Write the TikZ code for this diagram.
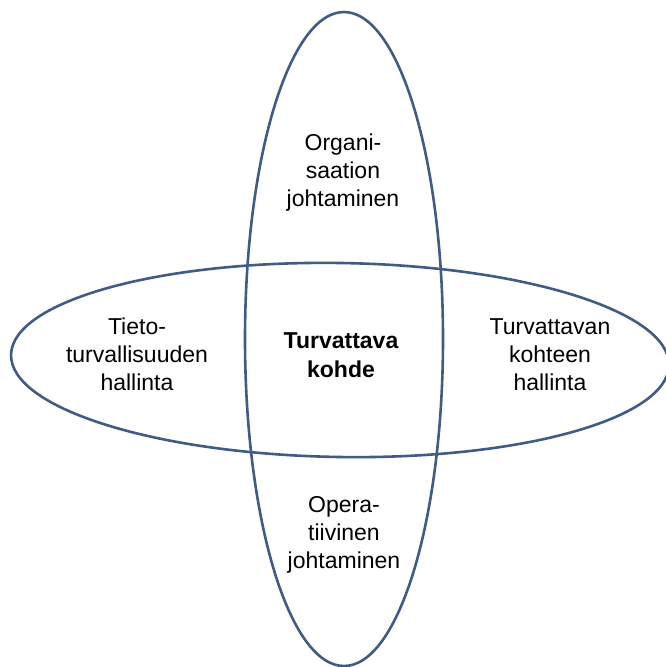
\documentclass[tikz,border=0pt]{standalone}
\usepackage{fontspec}
\setmainfont{Liberation Sans}
\definecolor{ringblue}{RGB}{62,92,134}
\begin{document}
\begin{tikzpicture}[x=1pt,y=-1pt,
  ring/.style={draw=ringblue,line width=2.6pt},
  label/.style={align=center,inner sep=0pt,font=\fontsize{23}{28}\selectfont},
  core/.style={label,font=\fontsize{23}{29}\selectfont\bfseries}]
  \useasboundingbox (0,0) rectangle (665,667);
  % the two crossing ellipses
  \draw[ring] (344,339) ellipse [x radius=99pt,y radius=327pt];
  \draw[ring,rotate around={-0.9:(340,360)}] (340,360) ellipse [x radius=329pt,y radius=97pt];
  % labels
  \node[label] (nTop) at (343,173) {Organi-\\saation\\johtaminen};
  \node[label] (nBottom) at (344,535) {Opera-\\tiivinen\\johtaminen};
  \node[label] (nLeft) at (137,354) {Tieto-\\turvallisuuden\\hallinta};
  \node[label] (nRight) at (550,355) {Turvattavan\\kohteen\\hallinta};
  \node[core] (nCore) at (341,355) {Turvattava\\kohde};
\end{tikzpicture}
\end{document}
